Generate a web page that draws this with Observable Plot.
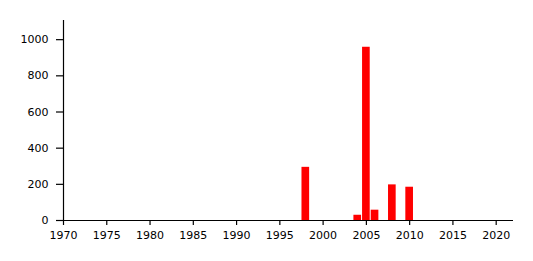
<!DOCTYPE html>
<html>
<head>
<meta charset="utf-8">
<script src="https://cdn.jsdelivr.net/npm/d3@7"></script>
<script src="https://cdn.jsdelivr.net/npm/@observablehq/plot@0.6"></script>
<style>
  html, body { margin: 0; padding: 0; background: #fff; }
  svg { display: block; }
</style>
</head>
<body>
<div id="chart"></div>
<script>
const years = [1998, 2004, 2005, 2006, 2008, 2010];
const values = [294, 29, 958, 57, 197, 184];
const xTicks = [1970, 1975, 1980, 1985, 1990, 1995, 2000, 2005, 2010, 2015, 2020];
const yTicks = [0, 200, 400, 600, 800, 1000];

const data = years.map((y, i) => ({year: y, value: values[i]}));

const chart = Plot.plot({
  width: 533,
  height: 261,
  marginLeft: 63,
  marginRight: 20,
  marginTop: 20,
  marginBottom: 41,
  style: {fontFamily: "DejaVu Sans", fontSize: "11px", color: "#000", background: "#fff"},
  x: {domain: [1970, 2022]},
  y: {domain: [0, 1106]},
  marks: [
    Plot.rectY(data, {
      x1: d => d.year - 0.5,
      x2: d => d.year + 0.5,
      y: "value",
      fill: "red",
      insetLeft: 0.5,
      insetRight: 0.5
    }),
    Plot.axisX({ticks: xTicks, tickFormat: "d", tickSize: 5, tickPadding: 6, label: null, stroke: "#000", strokeWidth: 1.2, fill: "#000"}),
    Plot.axisY({ticks: yTicks, tickFormat: "d", tickSize: 7, tickPadding: 8, label: null, stroke: "#000", strokeWidth: 1.2, fill: "#000"}),
    Plot.ruleY([0], {stroke: "#000", strokeWidth: 1.2}),
    Plot.ruleX([1970], {stroke: "#000", strokeWidth: 1.2})
  ]
});
document.getElementById("chart").appendChild(chart);
</script>
</body>
</html>
